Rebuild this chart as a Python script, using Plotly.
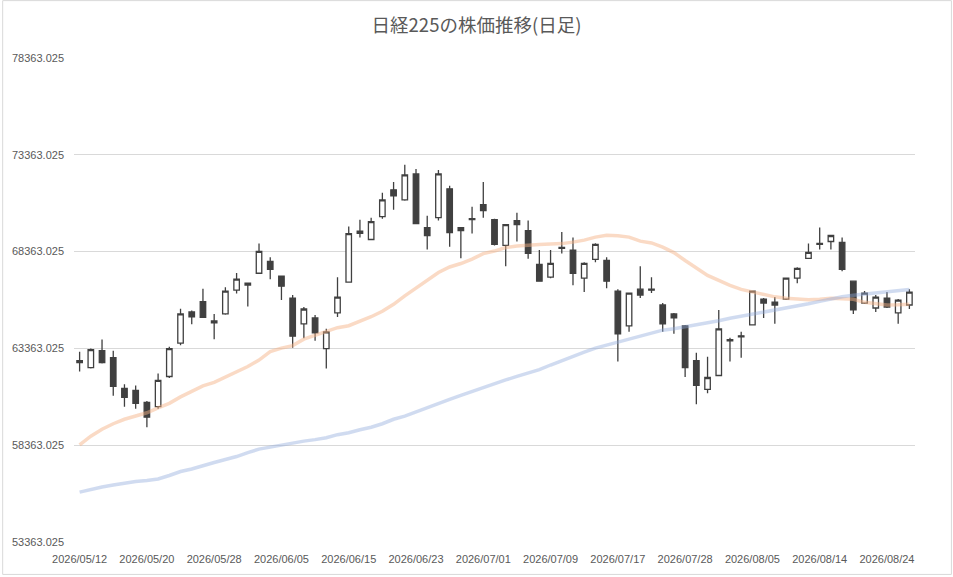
import plotly.graph_objects as go

dates = [
    "2026/05/12", "2026/05/13", "2026/05/14", "2026/05/15", "2026/05/18", "2026/05/19", "2026/05/20",
    "2026/05/21", "2026/05/22", "2026/05/25", "2026/05/26", "2026/05/27", "2026/05/28", "2026/05/29",
    "2026/06/01", "2026/06/02", "2026/06/03", "2026/06/04", "2026/06/05", "2026/06/08", "2026/06/09",
    "2026/06/10", "2026/06/11", "2026/06/12", "2026/06/15", "2026/06/16", "2026/06/17", "2026/06/18",
    "2026/06/19", "2026/06/22", "2026/06/23", "2026/06/24", "2026/06/25", "2026/06/26", "2026/06/29",
    "2026/06/30", "2026/07/01", "2026/07/02", "2026/07/03", "2026/07/06", "2026/07/07", "2026/07/08",
    "2026/07/09", "2026/07/10", "2026/07/13", "2026/07/14", "2026/07/15", "2026/07/16", "2026/07/17",
    "2026/07/21", "2026/07/22", "2026/07/23", "2026/07/24", "2026/07/27", "2026/07/28", "2026/07/29",
    "2026/07/30", "2026/07/31", "2026/08/03", "2026/08/04", "2026/08/05", "2026/08/06", "2026/08/07",
    "2026/08/10", "2026/08/12", "2026/08/13", "2026/08/14", "2026/08/17", "2026/08/18", "2026/08/19",
    "2026/08/20", "2026/08/21", "2026/08/24", "2026/08/25", "2026/08/26",
]

open_ = [62630, 62373, 63245, 62886, 61296, 61194, 60578, 60353, 61912, 63635, 65245, 65773, 64783, 65143,
         66373, 66630, 67245, 67860, 67091, 65963, 64630, 64937, 63348, 65194, 66783, 69312, 68988, 70167,
         71552, 71039, 72373, 69604, 70116, 71604, 69604, 70065, 70783, 70014, 68680, 69963, 69450, 67706,
         67040, 68586, 68432, 66988, 67963, 67912, 66322, 64527, 66424, 66424, 65604, 65143, 64527, 62732,
         61245, 61963, 63809, 64014, 64578, 65912, 65758, 65912, 66988, 68014, 68783, 68886, 68835, 66834,
         65706, 65450, 65963, 65194, 65604]
high = [63194, 63363, 63825, 63245, 61517, 61450, 60645, 62066, 63450, 65414, 65327, 66440, 65143, 66527,
        67260, 66732, 68783, 68065, 67091, 66117, 65501, 65091, 64373, 67040, 69655, 70014, 70116, 71398,
        71963, 72850, 72629, 70219, 72578, 71758, 69604, 70680, 71963, 70055, 69758, 70373, 69963, 68440,
        68440, 69373, 69091, 67809, 68791, 68065, 66424, 66219, 67604, 67040, 65706, 65194, 64578, 63143,
        62937, 65348, 63912, 64219, 66322, 65963, 66014, 66988, 67553, 68783, 69604, 69194, 69091, 66834,
        66322, 66117, 66270, 65912, 66424]
low = [62168, 62322, 62580, 60917, 60353, 60250, 59296, 60250, 61840, 63532, 64609, 64930, 63840, 65100,
       66199, 65532, 67245, 66937, 65860, 63399, 63891, 63758, 62322, 64989, 66783, 69091, 68988, 70065,
       70527, 70988, 69809, 68476, 69963, 68610, 68014, 69296, 70116, 68680, 67604, 68886, 67988, 66834,
       66988, 68270, 66629, 66270, 67809, 66476, 62681, 64219, 65963, 66219, 64219, 64117, 61891, 60476,
       61040, 61963, 62681, 62886, 64578, 64937, 64630, 65860, 66732, 68014, 68476, 68476, 67347, 65143,
       65655, 65245, 65450, 64630, 65399]
close = [62732, 63296, 62630, 61399, 60835, 60527, 59809, 61707, 63348, 65143, 64989, 64968, 64681, 66322,
         66937, 66732, 68373, 67450, 66578, 63994, 65399, 64168, 64219, 66014, 69296, 69414, 69911, 71039,
         71245, 72322, 69809, 69194, 72373, 69347, 69450, 70014, 70475, 68732, 69758, 69758, 68270, 66834,
         67757, 68535, 67245, 67757, 68740, 66834, 64117, 66219, 66117, 66373, 64630, 64937, 62373, 61450,
         61860, 64373, 63758, 63963, 66322, 65706, 65604, 66988, 67501, 68322, 68732, 69194, 67450, 65348,
         66219, 66014, 65501, 65860, 66270]

ma_orange = [58377, 58830, 59189, 59472, 59703, 59858, 60037, 60294, 60526, 60860, 61168, 61425, 61605, 61888,
             62145, 62428, 62762, 63199, 63378, 63507, 63841, 64047, 64252, 64432, 64535, 64766, 64998, 65280,
             65640, 66077, 66462, 66874, 67285, 67568, 67747, 67979, 68261, 68390, 68570, 68647, 68698, 68724,
             68750, 68775, 68853, 68955, 69110, 69202, 69187, 69110, 68904, 68811, 68596, 68313, 67902, 67516,
             67131, 66874, 66617, 66411, 66283, 66154, 66026, 65959, 65907, 65871, 65897, 65948, 65933, 65897,
             65743, 65666, 65604, 65614, 65640]
ma_blue = [55941, 56080, 56208, 56311, 56414, 56491, 56542, 56619, 56799, 57005, 57133, 57313, 57467, 57622,
           57776, 57981, 58161, 58264, 58367, 58495, 58573, 58650, 58752, 58907, 59009, 59164, 59292, 59472,
           59703, 59863, 60089, 60294, 60526, 60731, 60937, 61143, 61348, 61554, 61734, 61914, 62093, 62263,
           62505, 62736, 62967, 63173, 63378, 63533, 63687, 63841, 63980, 64149, 64304, 64381, 64484, 64561,
           64689, 64792, 64920, 65023, 65126, 65229, 65332, 65434, 65537, 65666, 65794, 65923, 66026, 66103,
           66164, 66231, 66283, 66349, 66411]

y_ticks = [53363.025, 58363.025, 63363.025, 68363.025, 73363.025, 78363.025]
y_tick_labels = ["53363.025", "58363.025", "63363.025", "68363.025", "73363.025", "78363.025"]
x_tick_labels = dates[::6]

W, H = 953, 577
L, R, T, B = 72, 38, 58, 34
pw, ph = W - L - R, H - T - B

dark = "#404040"
fig = go.Figure()
fig.add_trace(go.Candlestick(
    x=dates, open=open_, high=high, low=low, close=close,
    increasing=dict(fillcolor="#ffffff", line=dict(color=dark, width=1.3)),
    decreasing=dict(fillcolor=dark, line=dict(color=dark, width=1.3)),
    whiskerwidth=0, showlegend=False, hoverinfo="skip",
))
fig.add_trace(go.Scatter(x=dates, y=ma_orange, mode="lines",
                         line=dict(color="rgba(244,177,131,0.47)", width=3.5), showlegend=False))
fig.add_trace(go.Scatter(x=dates, y=ma_blue, mode="lines",
                         line=dict(color="rgba(143,170,220,0.42)", width=3.5), showlegend=False))

font_family = "Liberation Sans, Noto Sans CJK JP, sans-serif"
fig.update_layout(
    width=W, height=H,
    margin=dict(l=L, r=R, t=T, b=B, pad=0),
    paper_bgcolor="white", plot_bgcolor="white",
    title=dict(text="日経225の株価推移(日足)", x=0.5, xanchor="center", xref="container",
               y=1 - 26 / H, yref="container", yanchor="middle",
               font=dict(family="Noto Sans CJK JP, sans-serif", size=18.5, color="#595959")),
    font=dict(family=font_family, size=11, color="#595959"),
    xaxis=dict(type="category", rangeslider=dict(visible=False), showgrid=False,
               tickmode="array", tickvals=x_tick_labels, ticktext=x_tick_labels,
               ticks="", showline=False, zeroline=False, ticklabelstandoff=9,
               range=[-0.5, len(dates) - 0.5], tickangle=0),
    yaxis=dict(range=[y_ticks[0], y_ticks[-1]], tickmode="array", tickvals=y_ticks,
               ticktext=y_tick_labels, showgrid=True, gridcolor="#d9d9d9", gridwidth=1,
               zeroline=False, showline=False, ticks="", ticklabelstandoff=9),
    shapes=[dict(type="rect", xref="paper", yref="paper",
                 x0=-(L - 0.5) / pw, x1=1 + (R - 1.5) / pw,
                 y0=-(B - 1.5) / ph, y1=1 + (T - 0.5) / ph,
                 line=dict(color="#d9d9d9", width=1), fillcolor="rgba(0,0,0,0)", layer="below")],
    hovermode=False,
)

fig.write_html("out.html", config={"displayModeBar": False},
               post_script="document.body.style.margin='0px';document.body.style.overflow='hidden';")
